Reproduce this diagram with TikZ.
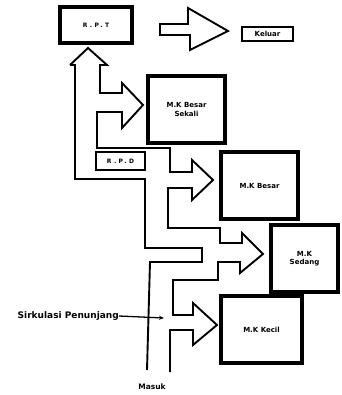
\documentclass[tikz,border=0pt]{standalone}
\usepackage{fontspec}
\setmainfont{DejaVu Sans}
\newfontfamily\spacedfont[LetterSpace=40]{DejaVu Sans}
\usetikzlibrary{arrows.meta}
\begin{document}
\begin{tikzpicture}[x=1pt,y=-1pt,
  tank/.style={draw,line width=3.4pt,rectangle,inner sep=0pt,align=center,
    font=\fontsize{7}{8.5}\selectfont\bfseries},
  smallbox/.style={draw,line width=2pt,rectangle,inner sep=0pt,align=center,
    font=\fontsize{7}{8}\selectfont\bfseries},
  wall/.style={line width=1.9pt,line join=miter},
  lbl/.style={inner sep=0pt,font=\fontsize{9}{10}\selectfont\bfseries}]
\useasboundingbox (0,0) rectangle (341,395);
% boxes
\node[tank,minimum width=72pt,minimum height=36pt] (rpt) at (96,25) {\spacedfont\fontsize{6}{7}\selectfont\bfseries R.P.T};
\node[smallbox,minimum width=51pt,minimum height=14pt] (keluar) at (267.5,34) {Keluar};
\node[tank,minimum width=77pt,minimum height=67pt] (sekali) at (186.5,109.5) {M.K Besar\\Sekali};
\node[smallbox,minimum width=49pt,minimum height=18pt] (rpd) at (120.5,161) {\spacedfont\fontsize{6}{7}\selectfont\bfseries R.P.D};
\node[tank,minimum width=77pt,minimum height=67pt] (besar) at (259.5,185.5) {M.K Besar};
\node[tank,minimum width=67pt,minimum height=67pt] (sedang) at (304.5,258.5) {M.K\\Sedang};
\node[tank,minimum width=81pt,minimum height=67pt] (kecil) at (261.5,329.5) {M.K Kecil};
\node[lbl,anchor=east] (sirk) at (119,316) {Sirkulasi Penunjang};
\node[lbl,font=\fontsize{7.5}{8}\selectfont\bfseries] (masuk) at (152,387) {Masuk};
% arrow R.P.T -> Keluar
\draw[wall] (160,24) -- (188,24) -- (188,8) -- (228,31) -- (190,50) -- (190,35) -- (160,35) -- cycle;
% channel walls
\draw[wall] (70,65) -- (88,48) -- (107,65) -- (100,65) -- (100,93) -- (122,93) -- (122,83)
  -- (143,105) -- (122,128) -- (122,112) -- (97,112) -- (97,148) -- (170,148) -- (170,172)
  -- (192,172) -- (192,160) -- (213,180) -- (192,200) -- (192,188) -- (168,188) -- (168,228)
  -- (220,228) -- (220,243) -- (242,243) -- (242,233) -- (263,254) -- (240,273) -- (240,262)
  -- (218,262) -- (218,280) -- (173,280) -- (173,315) -- (193,315) -- (193,303) -- (217,325)
  -- (193,345) -- (193,330) -- (170,330) -- (170,372);
\draw[wall] (70,65) -- (75,65) -- (75,179) -- (145,179) -- (145,248) -- (202,248) -- (202,262)
  -- (150,262) -- (147,370);
% Sirkulasi Penunjang arrow
\coordinate (sirkend) at (164,318);
\draw[line width=1.3pt,-{Stealth[length=5pt,width=4pt]}] (sirk.east) -- (sirkend);
\end{tikzpicture}
\end{document}
